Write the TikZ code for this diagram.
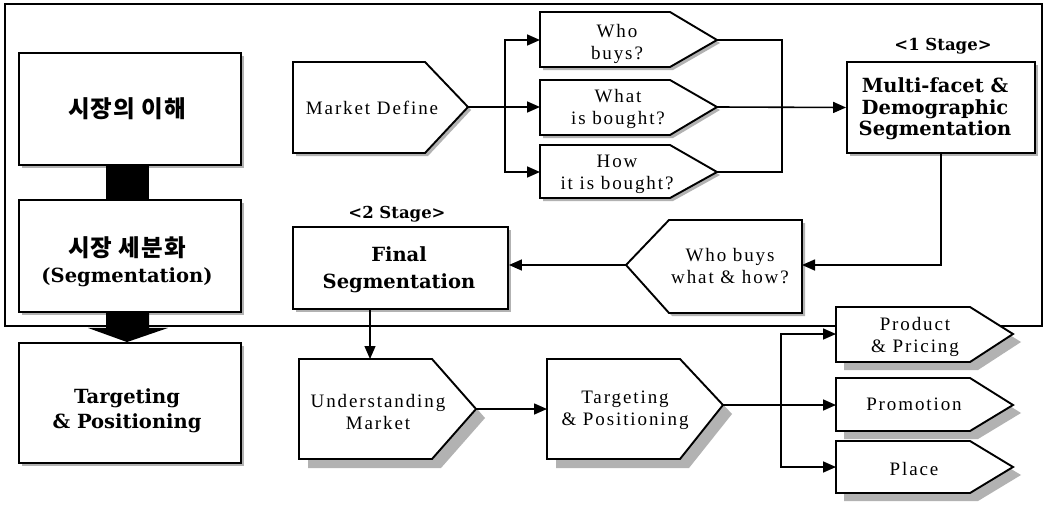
\documentclass[tikz,border=0pt]{standalone}
\usepackage{fontspec}
\usetikzlibrary{arrows.meta,shadows,calc}
\newfontfamily\krfont{Noto Sans CJK KR}[LetterSpace=4]
\newfontfamily\dvsfont{DejaVu Serif}
\newfontfamily\pentfont{Liberation Serif}[LetterSpace=10]
\tikzset{
  shadowc/.style={fill=gray!60},
  pentline/.style={draw=black, line width=1.9pt, line join=miter},
  sqbox/.style={draw=black, line width=1.9pt, fill=white, inner sep=0pt,
     drop shadow={shadow xshift=3pt, shadow yshift=-3pt, fill=gray!60, opacity=1}},
  krtext/.style={font=\krfont\bfseries\fontsize{23.5}{29}\selectfont, align=center, inner sep=0pt},
  boldtext/.style={font=\dvsfont\bfseries\fontsize{19.5}{26}\selectfont, align=center, inner sep=0pt},
  pentext/.style={font=\pentfont\fontsize{19}{22}\selectfont, align=center, inner sep=0pt},
  conn/.style={draw=black, line width=1.6pt},
  arr/.style={conn, -{Triangle[length=13pt,width=11pt]}},
}
\newcommand{\pentR}[8]{%
  \fill[shadowc, shift={(#8,#8)}] (#2,#3) -- (#6,#3) -- (#4,#7) -- (#6,#5) -- (#2,#5) -- cycle;
  \draw[pentline, fill=white] (#2,#3) -- (#6,#3) -- (#4,#7) -- (#6,#5) -- (#2,#5) -- cycle;
  \coordinate (#1-tip) at (#4,#7);
  \coordinate (#1-w) at (#2,#7);
}
\begin{document}
\begin{tikzpicture}[x=1pt,y=-1pt]
\useasboundingbox (0,0) rectangle (1051,506);
\fill[white] (0,0) rectangle (1051,506);
% outer frame
\draw[line width=1.9pt] (5,4) rectangle (1042,326);

% left column
\node[sqbox, minimum width=222pt, minimum height=112pt] (box1) at (130,109) {};
\node[sqbox, minimum width=222pt, minimum height=112pt] (box2) at (130,256) {};
\node[sqbox, minimum width=222pt, minimum height=120pt] (box3) at (130,403) {};
\fill ([xshift=-24pt]box1.south) rectangle ([xshift=19pt]box2.north);
\fill ([xshift=-24pt]box2.south) -- ([xshift=19pt]box2.south) -- ([xshift=19pt,yshift=-15pt]box2.south)
  -- ([xshift=38pt,yshift=-15pt]box2.south) -- ([xshift=-3pt]box3.north)
  -- ([xshift=-42pt,yshift=-15pt]box2.south) -- ([xshift=-24pt,yshift=-15pt]box2.south) -- cycle;
\node[krtext] (t1) at (127,109) {시장의 이해};
\node[krtext] (t2) at (127,248) {시장 세분화};
\node[boldtext] (t2b) at (127,277) {(Segmentation)};
\node[boldtext] (t3) at (127,411) {Targeting\\[-1pt]\&~Positioning};

% top pentagons
\pentR{md}{293}{62}{468}{153}{425}{107}{3}
\node[pentext] (mdt) at (372,108) {Market Define};
\pentR{wb}{540}{12}{717}{67}{670}{40}{3}
\node[pentext] (wbt) at (617,44) {Who\\buys?};
\pentR{wib}{540}{80}{717}{135}{670}{107}{3}
\node[pentext] (wibt) at (618,109) {What\\is bought?};
\pentR{hib}{540}{145}{717}{198}{670}{172}{3}
\node[pentext] (hibt) at (617,174) {How\\it is bought?};

% stage 1 box
\node[sqbox, minimum width=188pt, minimum height=91pt] (mf) at (941,107.5) {};
\node[boldtext, font=\dvsfont\bfseries\fontsize{19.5}{21.7}\selectfont] (mft) at (935,109) {Multi-facet \&\\Demographic\\Segmentation};
\node[boldtext, font=\dvsfont\bfseries\fontsize{16.5}{20}\selectfont] (st1) at (943,46) {<1 Stage>};

% connectors top
\coordinate (s1) at (505,107);
\draw[arr] (md-tip) -- (wib-w);
\draw[arr] (s1) |- (wb-w);
\draw[arr] (s1) |- (hib-w);
\coordinate (m2) at (782,172);
\draw[conn] (wb-tip) -| (m2) -- (hib-tip);
\draw[arr] (wib-tip) -- (mf.west);

% who buys what & how (left pointing)
\fill[shadowc, shift={(3,3)}] (802,220) -- (669,220) -- (626,265) -- (669,313) -- (802,313) -- cycle;
\draw[pentline, fill=white] (802,220) -- (669,220) -- (626,265) -- (669,313) -- (802,313) -- cycle;
\coordinate (wbh-tip) at (626,265);
\coordinate (wbh-e) at (802,265);
\node[pentext] (wbht) at (730,266) {Who buys\\what \& how?};
\draw[arr] (mf.south) |- (wbh-e);

% stage 2 box
\node[sqbox, minimum width=215pt, minimum height=82pt] (fs) at (400.5,268) {};
\node[boldtext, font=\dvsfont\bfseries\fontsize{19.5}{27}\selectfont] (fst) at (399,270) {Final\\Segmentation};
\node[boldtext, font=\dvsfont\bfseries\fontsize{16.5}{20}\selectfont] (st2) at (397,214) {<2 Stage>};
\draw[arr] (wbh-tip) -- (fs.east |- wbh-tip);

% lower pentagons
\pentR{um}{299}{359}{476}{459}{432}{409}{9}
\node[pentext] (umt) at (378,412) {Understanding\\Market};
\pentR{tp}{547}{359}{723}{459}{680}{405}{9}
\node[pentext] (tpt) at (625,410) {Targeting\\\& Positioning};
\coordinate (um-n) at (370,359);
\draw[arr, line width=1.2pt] (fs.south -| um-n) -- (um-n);
\draw[arr] (um-tip) -- (um-tip -| tp-w);

\pentR{pp}{836}{307}{1013}{362}{970}{334}{8}
\node[pentext] (ppt) at (915,337) {Product\\\& Pricing};
\pentR{pr}{836}{378}{1013}{431}{970}{405}{8}
\node[pentext] (prt) at (914,404) {Promotion};
\pentR{pl}{836}{441}{1013}{493}{970}{467}{8}
\node[pentext] (plt) at (914,469) {Place};

\coordinate (s2) at (781,405);
\draw[arr] (tp-tip) -- (pr-w);
\draw[arr] (s2) |- (pp-w);
\draw[arr] (s2) |- (pl-w);
\end{tikzpicture}
\end{document}
